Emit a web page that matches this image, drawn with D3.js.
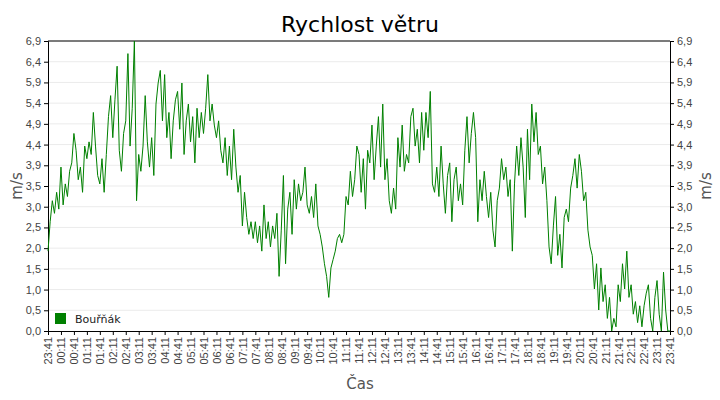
<!DOCTYPE html>
<html><head><meta charset="utf-8">
<script src="https://cdn.jsdelivr.net/npm/d3@7"></script>
<style>body{margin:0;background:#fff}svg{font-family:"DejaVu Sans",sans-serif}</style>
</head><body><svg id="c" width="720" height="400"></svg>
<script>
const title = "Rychlost větru";
const seriesName = "Bouřňák";
const xTickLabels = ["23:41","00:11","00:41","01:11","01:41","02:11","02:41","03:11","03:41","04:11","04:41","05:11","05:41","06:11","06:41","07:11","07:41","08:11","08:41","09:11","09:41","10:11","10:41","11:11","11:41","12:11","12:41","13:11","13:41","14:11","14:41","15:11","15:41","16:11","16:41","17:11","17:41","18:11","18:41","19:11","19:41","20:11","20:41","21:11","21:41","22:11","22:41","23:11","23:41"];
// wind speed, one value per 5 minutes starting 23:41
const speed = [
1.9,2.6,3.1,2.8,3.3,2.9,3.9,3.0,3.5,3.2,3.8,4.0,
4.7,4.3,3.6,3.9,3.3,4.4,4.1,4.5,4.2,5.2,4.4,3.7,
3.5,4.1,3.3,4.2,5.1,5.6,4.6,5.5,6.3,4.3,3.8,4.7,
5.0,6.6,4.4,5.3,6.9,3.1,4.2,3.8,4.4,5.6,4.5,3.9,
4.6,3.7,5.4,5.9,6.2,5.0,6.1,4.6,5.2,4.1,5.0,5.5,
5.7,4.8,5.9,4.2,5.0,5.4,4.5,5.1,4.0,5.3,4.6,5.2,
4.7,5.3,6.1,5.0,5.4,4.9,4.6,5.0,4.3,4.0,4.6,3.7,
4.4,3.6,4.8,3.9,3.3,3.7,2.5,3.3,2.7,2.3,2.6,2.2,
2.6,2.1,2.5,1.9,3.0,2.2,2.6,2.0,2.5,2.2,2.8,1.3,
2.4,3.7,1.6,2.9,3.3,2.3,3.6,2.9,3.5,3.1,3.3,3.9,
3.0,2.8,3.2,2.7,3.5,2.5,2.3,2.0,1.6,1.3,0.8,1.5,
1.7,1.9,2.2,2.3,2.1,2.3,3.2,3.0,3.8,3.2,3.6,4.4,
4.2,3.3,4.1,2.9,4.3,4.0,4.9,3.6,4.4,5.1,3.9,5.4,
3.6,4.1,3.1,2.8,3.4,2.9,4.6,3.9,4.9,3.8,4.2,4.0,
5.1,5.3,4.4,4.8,4.0,5.2,4.3,5.2,4.6,5.7,3.5,3.3,
3.9,3.2,4.4,3.5,2.8,3.7,4.0,2.6,3.6,3.9,3.1,3.5,
3.0,4.3,5.1,4.0,4.7,5.2,4.6,2.6,3.6,3.1,3.8,3.2,
2.7,3.3,2.4,2.0,3.1,3.4,4.1,3.6,3.9,3.2,3.6,1.9,
3.5,4.4,3.7,4.6,3.9,2.7,4.8,3.6,5.4,4.5,5.2,4.2,
4.4,3.5,3.9,3.1,2.0,1.6,2.5,3.2,1.8,2.3,1.5,2.7,
2.9,2.6,3.4,3.7,4.1,3.4,4.2,3.8,3.1,3.3,2.4,2.0,
1.8,1.0,1.6,0.5,1.5,0.7,1.1,0.3,0.8,0.0,0.3,0.1,
1.1,0.7,1.6,1.0,1.9,0.8,1.1,0.4,0.7,0.2,0.6,0.1,
0.6,0.9,1.1,0.3,0.0,0.8,1.2,0.4,0.0,1.4,0.5,0.0,0.0];
const yMax = 6.9;
const yTickValues = d3.range(15).map(i => i * yMax / 14);

const svg = d3.select("#c");
const L = 48, R = 670, T = 41, B = 331;
const x = d3.scaleLinear().domain([0, 288]).range([L, R]);
const y = d3.scaleLinear().domain([0, yMax]).range([B, T]);
const fmt = v => d3.format(".1f")(v).replace(".", ",");

svg.append("g").selectAll("line").data(yTickValues.slice(1)).join("line")
  .attr("x1", L).attr("x2", R).attr("y1", d => y(d)).attr("y2", d => y(d))
  .attr("stroke", "#ebebeb");

const styleAxis = g => { g.selectAll("text").attr("fill", "#444").style("font-size", "11px"); g.selectAll("line,path").attr("stroke", "#000"); };
svg.append("g").attr("transform", `translate(${L},0)`)
  .call(d3.axisLeft(y).tickValues(yTickValues).tickFormat(fmt).tickSize(4).tickPadding(3)).call(styleAxis);
svg.append("g").attr("transform", `translate(${R},0)`)
  .call(d3.axisRight(y).tickValues(yTickValues).tickFormat(fmt).tickSize(4).tickPadding(3)).call(styleAxis);
const xb = d3.scaleLinear().domain([0, xTickLabels.length - 1]).range([L, R]);
const gx = svg.append("g").attr("transform", `translate(0,${B})`)
  .call(d3.axisBottom(xb).tickValues(d3.range(xTickLabels.length)).tickFormat(i => xTickLabels[i]).tickSize(4)).call(styleAxis);
gx.selectAll("text").attr("transform", "rotate(-90)").attr("text-anchor", "end")
  .attr("x", -6).attr("y", 0).attr("dy", "0.35em");
svg.append("line").attr("x1", L).attr("x2", R).attr("y1", T).attr("y2", T).attr("stroke", "#000");

svg.append("path").datum(speed)
  .attr("d", d3.line().x((d, i) => x(i)).y(d => y(d)))
  .attr("fill", "none").attr("stroke", "#008000").attr("stroke-width", 1);

svg.append("text").attr("x", 360).attr("y", 32).attr("text-anchor", "middle")
  .style("font-size", "22px").attr("fill", "#000").text(title);
svg.append("text").attr("x", 360).attr("y", 389).attr("text-anchor", "middle")
  .style("font-size", "15px").attr("fill", "#555").text("Čas");
svg.append("text").attr("transform", "translate(22,186) rotate(-90)").attr("text-anchor", "middle")
  .style("font-size", "15px").attr("fill", "#555").text("m/s");
svg.append("text").attr("transform", "translate(711,186) rotate(-90)").attr("text-anchor", "middle")
  .style("font-size", "15px").attr("fill", "#555").text("m/s");
svg.append("rect").attr("x", 55).attr("y", 313).attr("width", 11).attr("height", 11).attr("fill", "#008000");
svg.append("text").attr("x", 75).attr("y", 323).style("font-size", "11px").attr("fill", "#222").text(seriesName);
</script></body></html>
